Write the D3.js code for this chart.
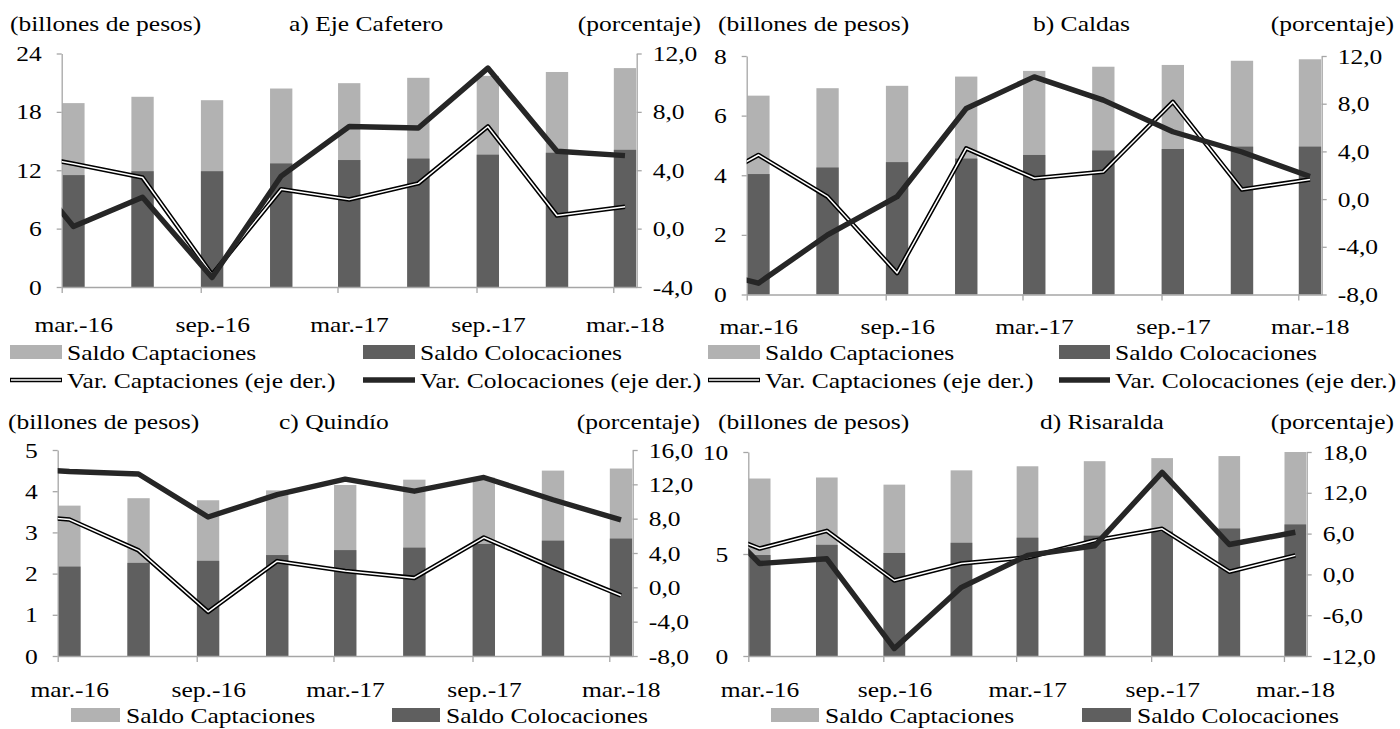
<!DOCTYPE html>
<html>
<head>
<meta charset="utf-8">
<script src="https://cdn.jsdelivr.net/npm/d3@7"></script>
<style>
  body { margin: 0; background: #fff; }
  svg { display: block; }
</style>
</head>
<body>
<svg id="chart" width="1400" height="729"></svg>
<script>
'use strict';

// Quarters. The first one (dic.-15) lies left of the axis: only the clipped start of the lines shows it.
const quarters = ['2015-12', '2016-03', '2016-06', '2016-09', '2016-12', '2017-03', '2017-06', '2017-09', '2017-12', '2018-03'];
const tickMonths = ['2016-03', '2016-09', '2017-03', '2017-09', '2018-03'];
const tickLabels = ['mar.-16', 'sep.-16', 'mar.-17', 'sep.-17', 'mar.-18'];
const legendLabels = ['Saldo Captaciones', 'Saldo Colocaciones', 'Var. Captaciones (eje der.)', 'Var. Colocaciones (eje der.)'];

// a) Eje Cafetero (billones de pesos / porcentaje)
const captA = [18.9, 19.55, 19.2, 20.4, 20.95, 21.5, 21.7, 22.1, 22.5];
const colA = [11.5, 11.9, 11.9, 12.7, 13.05, 13.2, 13.6, 13.8, 14.1];
const varCapA = [5.3, 4.45, 3.5, -3.15, 2.7, 2.0, 3.1, 7.0, 0.9, 1.5];
const varColA = [5.9, 0.15, 2.15, -3.35, 3.6, 7.0, 6.9, 11.0, 5.3, 5.0];

// b) Caldas
const captB = [6.67, 6.92, 7.0, 7.31, 7.5, 7.64, 7.7, 7.84, 7.89];
const colB = [4.04, 4.26, 4.44, 4.56, 4.68, 4.83, 4.88, 4.96, 4.96];
const varCapB = [0.5, 3.7, 0.2, -6.2, 4.25, 1.75, 2.3, 8.15, 0.8, 1.65];
const varColB = [-5.6, -7.05, -3.0, 0.2, 7.6, 10.25, 8.3, 5.65, 3.95, 1.9];

// c) Quindío
const captC = [3.65, 3.83, 3.78, 4.02, 4.15, 4.28, 4.33, 4.5, 4.55];
const colC = [2.17, 2.26, 2.31, 2.45, 2.57, 2.63, 2.72, 2.8, 2.85];
const varCapC = [8.6, 7.9, 4.3, -2.85, 3.05, 1.9, 1.1, 5.8, 2.3, -0.95];
const varColC = [14.0, 13.5, 13.2, 8.2, 10.8, 12.6, 11.2, 12.8, 10.2, 7.85];

// d) Risaralda
const captD = [8.7, 8.75, 8.4, 9.1, 9.3, 9.55, 9.7, 9.8, 10.0];
const colD = [4.95, 5.45, 5.05, 5.55, 5.8, 5.9, 6.1, 6.25, 6.45];
const varCapD = [7.6, 3.8, 6.4, -0.9, 1.6, 2.5, 5.0, 6.7, 0.4, 2.8];
const varColD = [11.6, 1.6, 2.3, -10.9, -1.9, 2.8, 4.2, 15.0, 4.4, 6.2];

// Axis ticks
const leftTicksA = [0, 6, 12, 18, 24], rightTicksA = [-4, 0, 4, 8, 12];
const leftTicksB = [0, 2, 4, 6, 8], rightTicksB = [-8, -4, 0, 4, 8, 12];
const leftTicksC = [0, 1, 2, 3, 4, 5], rightTicksC = [-8, -4, 0, 4, 8, 12, 16];
const leftTicksD = [0, 5, 10], rightTicksD = [-12, -6, 0, 6, 12, 18];

// Style
const SX = 1.16; // the reference text is stretched horizontally
const axisColor = '#a6a6a6';
const lightGray = '#b2b2b2';
const darkGray = '#5f5f5f';
const lineBlack = '#262626';
const fontFamily = '"Liberation Serif", "Times New Roman", serif';

const parse = d3.timeParse('%Y-%m');
const es = d3.formatLocale({decimal: ',', thousands: '.', grouping: [3], currency: ['$', ''], minus: '-'});
const fmtPct = es.format('.1f');
const fmtInt = es.format('d');

const svg = d3.select('#chart')
    .style('font-family', fontFamily)
    .style('font-size', '22px');

function addText(g, x, y, str, anchor) {
    return g.append('text')
        .attr('transform', `translate(${x},${y}) scale(${SX},1)`)
        .attr('text-anchor', anchor || 'start')
        .attr('dy', '0.35em')
        .attr('fill', '#000')
        .text(str);
}

function styleAxis(sel) {
    sel.select('.domain').attr('stroke', axisColor).attr('stroke-width', 1.3);
    sel.selectAll('.tick line').attr('stroke', axisColor).attr('stroke-width', 1.3);
    sel.selectAll('text').each(function () {
        const t = d3.select(this);
        const x = +t.attr('x') || 0;
        t.attr('x', 0).attr('transform', `translate(${x},0) scale(${SX},1)`)
            .attr('fill', '#000').style('font-size', '22px')
            .style('font-family', fontFamily);
    });
}

const panels = [
    {title: 'a) Eje Cafetero', capt: captA, col: colA, varCap: varCapA, varCol: varColA,
        x0: 61.7, x1: 636.7, yT: 53.5, yB: 287, left: [0, 24], right: [-4, 12],
        leftTicks: leftTicksA, rightTicks: rightTicksA, xLab: 37,
        titleY: 23, titleL: 10, titleC: 289, titleR: 701,
        legRows: [352, 380], legCols: [[10, 62, 67], [363, 415, 420]]},
    {title: 'b) Caldas', capt: captB, col: colB, varCap: varCapB, varCol: varColB,
        x0: 746.7, x1: 1321.7, yT: 56, yB: 294.5, left: [0, 8], right: [-8, 12],
        leftTicks: leftTicksB, rightTicks: rightTicksB, xLab: 32,
        titleY: 23, titleL: 718, titleC: 1033, titleR: 1394,
        legRows: [352, 380], legCols: [[708, 760, 765], [1059, 1110, 1115]]},
    {title: 'c) Quindío', capt: captC, col: colC, varCap: varCapC, varCol: varColC,
        x0: 57.7, x1: 632.7, yT: 450, yB: 656, left: [0, 5], right: [-8, 16],
        leftTicks: leftTicksC, rightTicks: rightTicksC, xLab: 33,
        titleY: 421, titleL: 8, titleC: 279, titleR: 700,
        legRows: [715], legCols: [[71, 120, 126], [392, 440, 446]]},
    {title: 'd) Risaralda', capt: captD, col: colD, varCap: varCapD, varCol: varColD,
        x0: 748.3, x1: 1306.7, yT: 452, yB: 656, left: [0, 10], right: [-12, 18],
        leftTicks: leftTicksD, rightTicks: rightTicksD, xLab: 33,
        titleY: 421, titleL: 718, titleC: 1040, titleR: 1394,
        legRows: [715], legCols: [[771, 819, 825], [1082, 1131, 1137]]}
];

const months = quarters.map(parse);
const barMonths = months.slice(1);

panels.forEach(function (p, k) {
    const g = svg.append('g');

    const x = d3.scaleTime()
        .domain([parse('2016-03'), parse('2018-04')])
        .range([p.x0, p.x1]);
    const yL = d3.scaleLinear().domain(p.left).range([p.yB, p.yT]);
    const yR = d3.scaleLinear().domain(p.right).range([p.yB, p.yT]);
    const cx = d => (x(d) + x(d3.timeMonth.offset(d, 1))) / 2;
    const monthW = (p.x1 - p.x0) / 25;
    const bw = monthW * 0.97;

    // Titles
    addText(g, p.titleL, p.titleY, '(billones de pesos)');
    addText(g, p.titleC, p.titleY, p.title);
    addText(g, p.titleR, p.titleY, '(porcentaje)', 'end');

    // Bars: captaciones behind, colocaciones in front (100% overlap)
    g.selectAll('rect.capt').data(p.capt).join('rect')
        .attr('class', 'capt')
        .attr('x', (d, i) => cx(barMonths[i]) - bw / 2)
        .attr('width', bw)
        .attr('y', d => yL(d))
        .attr('height', d => yL(0) - yL(d))
        .attr('fill', lightGray);
    g.selectAll('rect.col').data(p.col).join('rect')
        .attr('class', 'col')
        .attr('x', (d, i) => cx(barMonths[i]) - bw / 2)
        .attr('width', bw)
        .attr('y', d => yL(d))
        .attr('height', d => yL(0) - yL(d))
        .attr('fill', darkGray);

    // Axes: date ticks sit on month boundaries, labels centred in the month
    const ax = g.append('g').attr('transform', `translate(0,${p.yB})`)
        .call(d3.axisBottom(x)
            .tickValues(tickMonths.map(parse))
            .tickFormat((d, i) => tickLabels[i])
            .tickSize(6).tickSizeOuter(0));
    ax.selectAll('text').attr('x', monthW / 2).attr('y', p.xLab).attr('dy', '0.35em');
    styleAxis(ax);

    const al = g.append('g').attr('transform', `translate(${p.x0},0)`)
        .call(d3.axisLeft(yL).tickValues(p.leftTicks).tickFormat(fmtInt)
            .tickSize(5).tickSizeOuter(0).tickPadding(15));
    styleAxis(al);

    const ar = g.append('g').attr('transform', `translate(${p.x1},0)`)
        .call(d3.axisRight(yR).tickValues(p.rightTicks).tickFormat(fmtPct)
            .tickSize(5).tickSizeOuter(0).tickPadding(11));
    styleAxis(ar);

    // Lines, clipped to the plot area
    const clipId = 'clip' + k;
    g.append('clipPath').attr('id', clipId).append('rect')
        .attr('x', p.x0).attr('y', p.yT - 30)
        .attr('width', p.x1 - p.x0).attr('height', p.yB - p.yT + 60);
    const line = d3.line().x((d, i) => cx(months[i])).y(d => yR(d));
    const lg = g.append('g').attr('clip-path', `url(#${clipId})`);
    lg.append('path').attr('d', line(p.varCap))
        .attr('fill', 'none').attr('stroke', '#000').attr('stroke-width', 4.6).attr('stroke-linejoin', 'round');
    lg.append('path').attr('d', line(p.varCap))
        .attr('fill', 'none').attr('stroke', '#fff').attr('stroke-width', 1.5).attr('stroke-linejoin', 'round');
    lg.append('path').attr('d', line(p.varCol))
        .attr('fill', 'none').attr('stroke', lineBlack).attr('stroke-width', 5.4).attr('stroke-linejoin', 'round');

    // Legend (the lower charts are cut by the picture edge after the first row)
    const [c1, c2] = p.legCols;
    const r1 = p.legRows[0];
    g.append('rect').attr('x', c1[0]).attr('y', r1 - 7).attr('width', c1[1] - c1[0]).attr('height', 14).attr('fill', lightGray);
    addText(g, c1[2], r1, legendLabels[0]);
    g.append('rect').attr('x', c2[0]).attr('y', r1 - 7).attr('width', c2[1] - c2[0]).attr('height', 14).attr('fill', darkGray);
    addText(g, c2[2], r1, legendLabels[1]);
    if (p.legRows.length > 1) {
        const r2 = p.legRows[1];
        g.append('line').attr('x1', c1[0]).attr('x2', c1[1]).attr('y1', r2).attr('y2', r2)
            .attr('stroke', '#000').attr('stroke-width', 4.6);
        g.append('line').attr('x1', c1[0] + 1).attr('x2', c1[1] - 1).attr('y1', r2).attr('y2', r2)
            .attr('stroke', '#fff').attr('stroke-width', 1.5);
        addText(g, c1[2], r2, legendLabels[2]);
        g.append('line').attr('x1', c2[0]).attr('x2', c2[1]).attr('y1', r2).attr('y2', r2)
            .attr('stroke', lineBlack).attr('stroke-width', 5.4);
        addText(g, c2[2], r2, legendLabels[3]);
    }
});
</script>
</body>
</html>
